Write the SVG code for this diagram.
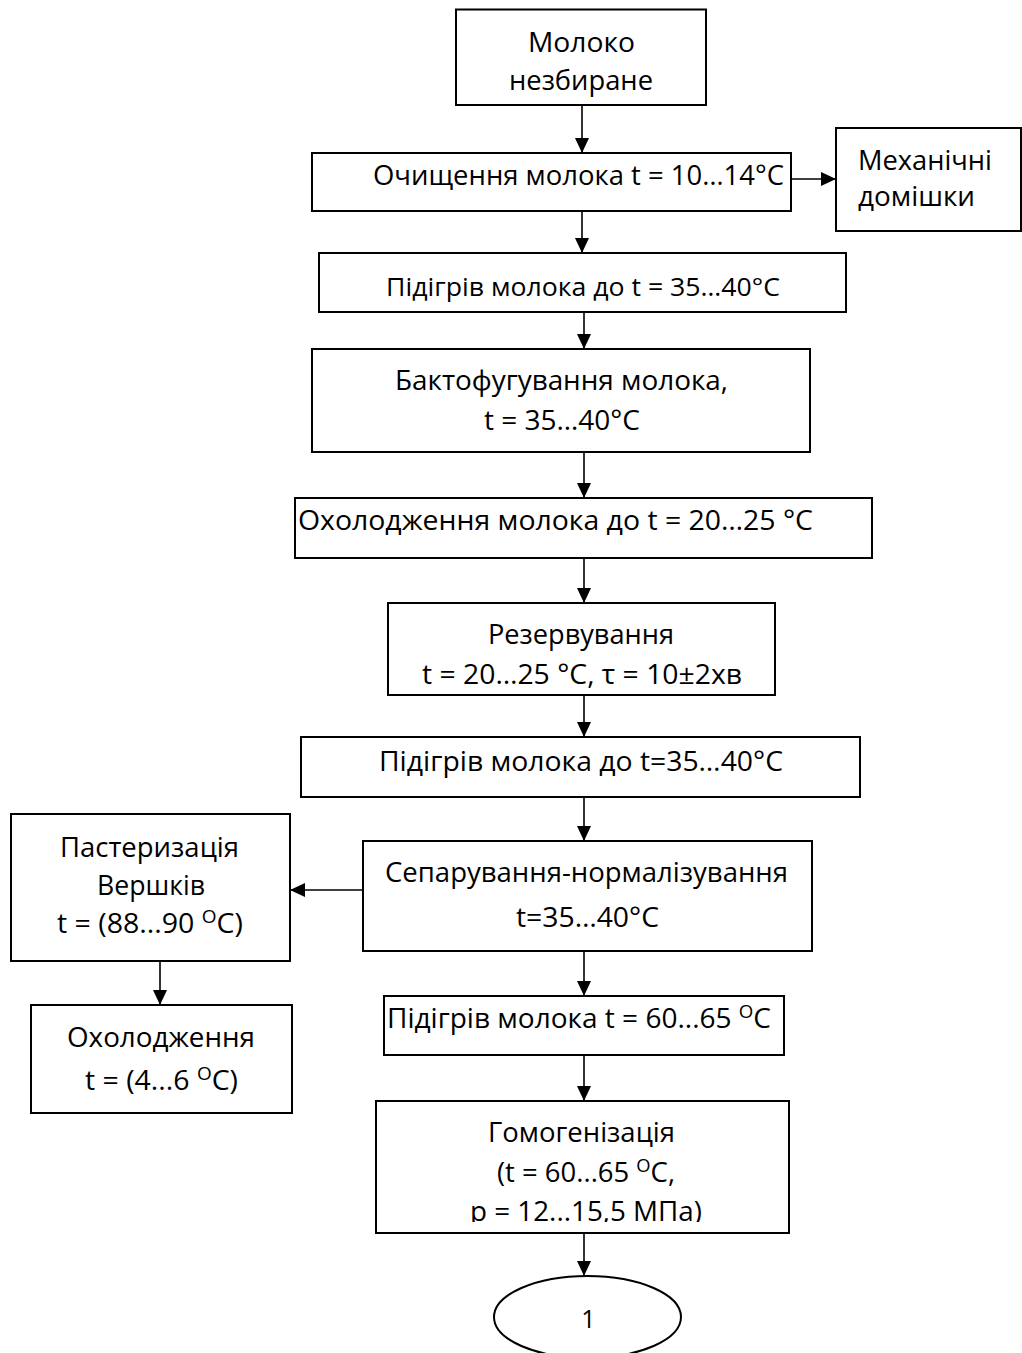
<svg xmlns="http://www.w3.org/2000/svg" width="1022" height="1353" viewBox="0 0 1022 1353">
<style>
.box{fill:#fff;stroke:#000;stroke-width:2}
.t{font-family:"Open Sans","Noto Sans","DejaVu Sans",sans-serif;font-size:27px;fill:#000}
.s{font-size:18px}
.c{stroke:#000;stroke-width:1.6;fill:none;marker-end:url(#ah)}
</style>
<defs>
<marker id="ah" markerUnits="userSpaceOnUse" markerWidth="15" markerHeight="14" refX="15" refY="7" orient="auto">
<path d="M0,0 L15,7 L0,14 Z" fill="#000"/>
</marker>
<clipPath id="clipP"><rect x="376" y="1190" width="413" height="32"/></clipPath>
</defs>
<rect width="1022" height="1353" fill="#fff"/>

<g id="n-milk">
<rect class="box" x="456" y="9.5" width="250" height="95.5"/>
<text class="t" x="528" y="52" textLength="107" lengthAdjust="spacingAndGlyphs">Молоко</text>
<text class="t" x="509" y="90" textLength="144" lengthAdjust="spacingAndGlyphs">незбиране</text>
</g>

<g id="n-clean">
<rect class="box" x="312" y="153" width="479" height="58"/>
<text class="t" x="373" y="185" textLength="411" lengthAdjust="spacingAndGlyphs">Очищення молока t = 10…14°C</text>
</g>

<g id="n-impurities">
<rect class="box" x="836" y="128" width="185" height="103"/>
<text class="t" x="858" y="170" style="font-size:28px" textLength="134" lengthAdjust="spacingAndGlyphs">Механічні</text>
<text class="t" x="858" y="206" style="font-size:28px" textLength="117" lengthAdjust="spacingAndGlyphs">домішки</text>
</g>

<g id="n-heat1">
<rect class="box" x="319" y="253" width="527" height="59"/>
<text class="t" x="386" y="296" style="font-size:25px" textLength="394" lengthAdjust="spacingAndGlyphs">Підігрів молока до t = 35…40°C</text>
</g>

<g id="n-bacto">
<rect class="box" x="312" y="349" width="498" height="103"/>
<text class="t" x="395" y="390" textLength="333" lengthAdjust="spacingAndGlyphs">Бактофугування молока,</text>
<text class="t" x="484" y="430" textLength="156" lengthAdjust="spacingAndGlyphs">t = 35…40°C</text>
</g>

<g id="n-cool1">
<rect class="box" x="295" y="498" width="577" height="60"/>
<text class="t" x="298" y="530" textLength="515" lengthAdjust="spacingAndGlyphs">Охолодження молока до t = 20…25 °C</text>
</g>

<g id="n-reserve">
<rect class="box" x="388" y="603" width="387" height="92"/>
<text class="t" x="488" y="644" textLength="186" lengthAdjust="spacingAndGlyphs">Резервування</text>
<text class="t" x="422" y="684" textLength="320" lengthAdjust="spacingAndGlyphs">t = 20…25 °C, τ = 10±2хв</text>
</g>

<g id="n-heat2">
<rect class="box" x="301" y="737" width="559" height="60"/>
<text class="t" x="379" y="771" textLength="404" lengthAdjust="spacingAndGlyphs">Підігрів молока до t=35…40°C</text>
</g>

<g id="n-separate">
<rect class="box" x="363" y="841" width="449" height="110"/>
<text class="t" x="385" y="882" textLength="403" lengthAdjust="spacingAndGlyphs">Сепарування-нормалізування</text>
<text class="t" x="516" y="927" textLength="143" lengthAdjust="spacingAndGlyphs">t=35…40°C</text>
</g>

<g id="n-pasteur">
<rect class="box" x="11" y="814" width="279" height="147"/>
<text class="t" x="60" y="857" textLength="179" lengthAdjust="spacingAndGlyphs">Пастеризація</text>
<text class="t" x="97" y="895" textLength="108" lengthAdjust="spacingAndGlyphs">Вершків</text>
<text class="t" x="57" y="933" textLength="186" lengthAdjust="spacingAndGlyphs">t = (88...90 <tspan class="s" dy="-10">O</tspan><tspan dy="10">C)</tspan></text>
</g>

<g id="n-cool2">
<rect class="box" x="31" y="1005" width="261" height="108"/>
<text class="t" x="67" y="1047" textLength="188" lengthAdjust="spacingAndGlyphs">Охолодження</text>
<text class="t" x="85" y="1090" textLength="153" lengthAdjust="spacingAndGlyphs">t = (4...6 <tspan class="s" dy="-10">O</tspan><tspan dy="10">C)</tspan></text>
</g>

<g id="n-heat3">
<rect class="box" x="384" y="996" width="400" height="59"/>
<text class="t" x="387" y="1028" textLength="384" lengthAdjust="spacingAndGlyphs">Підігрів молока t = 60...65 <tspan class="s" dy="-10">O</tspan><tspan dy="10">C</tspan></text>
</g>

<g id="n-homog">
<rect class="box" x="376" y="1101" width="413" height="132"/>
<text class="t" x="488" y="1142" textLength="187" lengthAdjust="spacingAndGlyphs">Гомогенізація</text>
<text class="t" x="497" y="1182" textLength="178" lengthAdjust="spacingAndGlyphs">(t = 60...65 <tspan class="s" dy="-10">O</tspan><tspan dy="10">C,</tspan></text>
<text class="t" x="470" y="1221" clip-path="url(#clipP)" textLength="232" lengthAdjust="spacingAndGlyphs">p = 12...15,5 МПа)</text>
</g>

<g id="n-end">
<ellipse cx="587.5" cy="1317" rx="93.5" ry="41" fill="#fff" stroke="#000" stroke-width="2"/>
<text class="t" x="588.5" y="1328" style="font-size:25px" text-anchor="middle">1</text>
</g>

<g id="connectors">
<line class="c" x1="582" y1="105" x2="582" y2="153"/>
<line class="c" x1="791" y1="179" x2="836" y2="179"/>
<line class="c" x1="582" y1="211" x2="582" y2="253"/>
<line class="c" x1="584" y1="312" x2="584" y2="349"/>
<line class="c" x1="584" y1="452" x2="584" y2="498"/>
<line class="c" x1="584" y1="558" x2="584" y2="603"/>
<line class="c" x1="584" y1="695" x2="584" y2="737"/>
<line class="c" x1="584" y1="797" x2="584" y2="841"/>
<line class="c" x1="363" y1="890" x2="290" y2="890"/>
<line class="c" x1="584" y1="951" x2="584" y2="996"/>
<line class="c" x1="160" y1="961" x2="160" y2="1005"/>
<line class="c" x1="584" y1="1055" x2="584" y2="1101"/>
<line class="c" x1="584" y1="1233" x2="584" y2="1276"/>
</g>
</svg>
